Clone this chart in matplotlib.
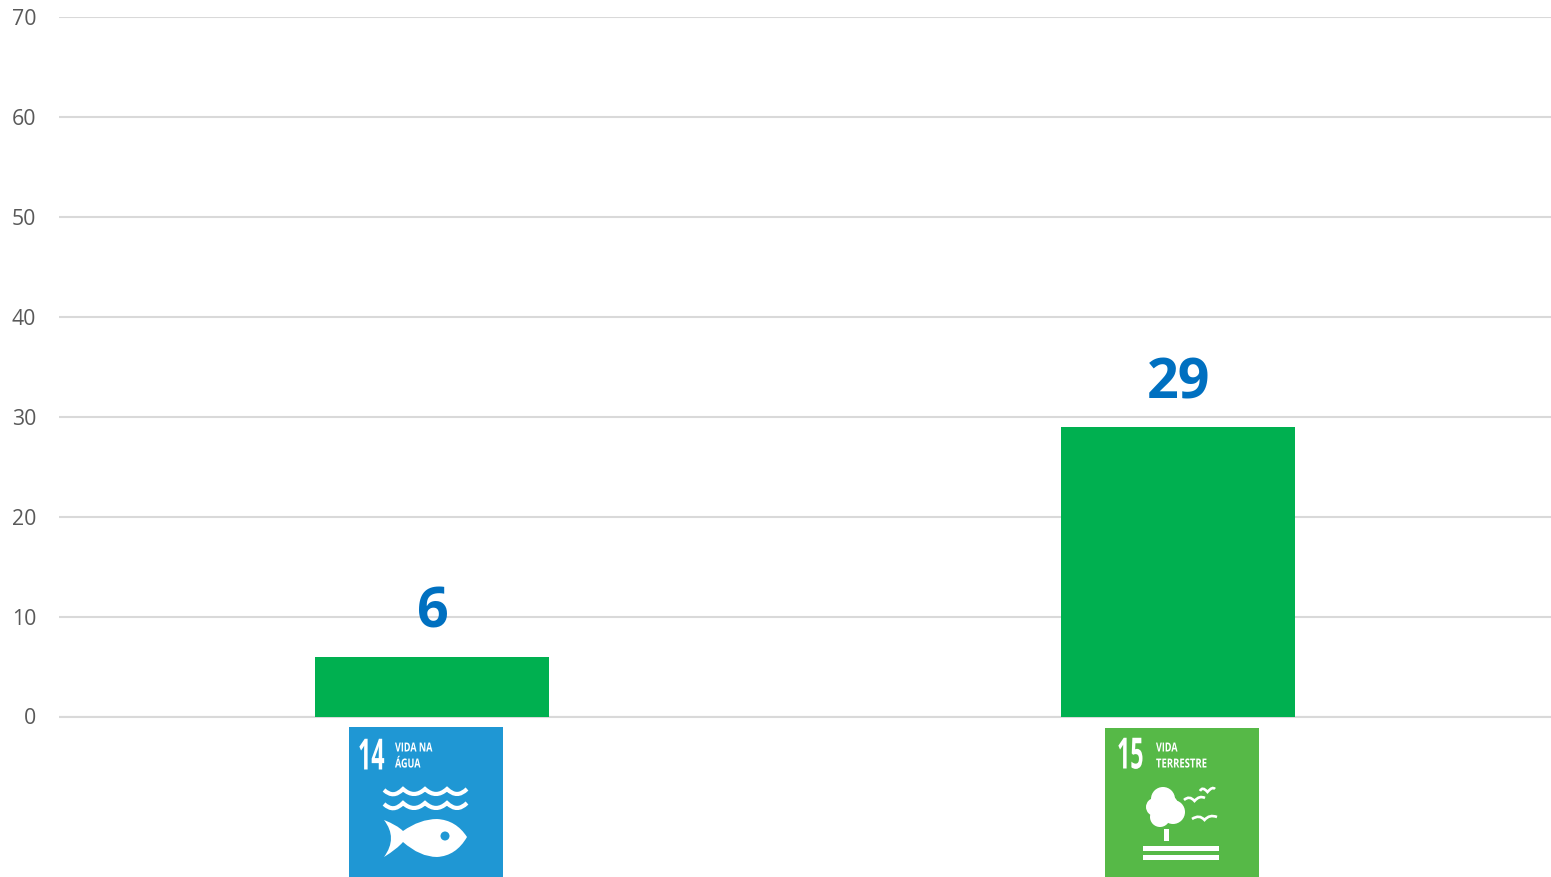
import matplotlib
matplotlib.use('Agg')
import matplotlib.pyplot as plt
from matplotlib.patches import Rectangle, Circle, PathPatch
from matplotlib.path import Path
from matplotlib.patheffects import AbstractPathEffect
from matplotlib.transforms import Affine2D, ScaledTranslation

W, H = 1551, 878
categories = ['ODS 14', 'ODS 15']
values = [6, 29]
yticks = [0, 10, 20, 30, 40, 50, 60, 70]

BAR = '#00B050'
LABEL = '#0070C0'
BLUE_ODS = '#1F97D4'
GREEN_ODS = '#56B947'

plt.rcParams['font.family'] = ['Open Sans', 'DejaVu Sans']
fig = plt.figure(figsize=(W/100, H/100), dpi=100)
ax = fig.add_axes([59/W, 1-717.5/H, (W-59)/W, (717.5-18)/H])

xx = range(len(values))
ax.bar(xx, values, width=0.315, color=BAR, zorder=3)
for x, v in zip(xx, values):
	ax.annotate(str(v), xy=(x, v), xytext=(0.5, 12), textcoords='offset points', ha='center', va='bottom',
		fontsize=40, fontweight='bold', color=LABEL)

ax.set_xlim(-0.5, 1.5)
ax.set_ylim(0, 70)
ax.set_xticks([])
ax.set_yticks(yticks)
ax.tick_params(axis='y', length=0, pad=16.5, labelsize=15.3, labelcolor='#595959')
up = ScaledTranslation(0, 1/100, fig.dpi_scale_trans)
for lbl in ax.get_yticklabels():
	lbl.set_transform(lbl.get_transform() + up)
ax.grid(axis='y', color='#D9D9D9', linewidth=1.5, zorder=0)
ax.set_axisbelow(True)
for s in ['top', 'right', 'left']:
	ax.spines[s].set_visible(False)
ax.spines['bottom'].set_color('#D9D9D9')
ax.spines['bottom'].set_linewidth(1.5)
ax.spines['bottom'].set_capstyle('butt')

# overlay in image pixels for the two goal icons under the bars
ov = fig.add_axes([0, 0, 1, 1])
ov.set_xlim(0, W)
ov.set_ylim(H, 0)
ov.axis('off')
ov.patch.set_alpha(0)

class Squeeze(AbstractPathEffect):
	# no condensed font installed, so narrow the glyphs around the text's left edge
	def __init__(self, x0, sx):
		super().__init__()
		self.x0, self.sx = x0, sx
	def draw_path(self, renderer, gc, tpath, affine, rgbFace=None):
		squeezed = affine + Affine2D().translate(-self.x0, 0).scale(self.sx, 1).translate(self.x0, 0)
		renderer.draw_path(gc, tpath, squeezed, rgbFace)

def icon_text(x, y, s, size, sx):
	ov.text(x, y, s, color='white', fontsize=size, fontweight='bold', ha='left', va='center',
		path_effects=[Squeeze(x, sx)])

def curve(points, **kw):
	# first point is a move, then pairs of control/end points
	codes = [Path.MOVETO] + [Path.CURVE3]*(len(points)-1)
	ov.add_patch(PathPatch(Path(points, codes), **kw))

def wave(y):
	pts = [(384, y-2)]
	prev = 384
	for x in [403, 425, 447, 467]:
		pts += [((prev+x)/2, y+7), (x, y-3)]
		prev = x
	curve(pts, fill=False, edgecolor='white', linewidth=3)

def bird(x0, x1, y):
	xm = (x0+x1)/2
	curve([(x0, y+1), (xm-5, y-4), (xm, y+2), (xm+5, y-4), (x1, y-1)], fill=False, edgecolor='white', linewidth=1.9)

# goal 14
ov.add_patch(Rectangle((349, 727.5), 154, 151, color=BLUE_ODS, lw=0))
icon_text(358, 759, '14', 31, 0.54)
icon_text(395, 749, 'VIDA NA', 9, 0.72)
icon_text(395, 765, 'ÁGUA', 9, 0.72)
wave(793)
wave(807)
fish = [(384, 821), (397, 826), (403, 832), (420, 820), (437, 820), (456, 821), (467, 838),
	(456, 857), (437, 858), (420, 858), (403, 843), (397, 850), (384, 858), (398, 839), (384, 821)]
curve(fish, facecolor='white', edgecolor='none')
ov.add_patch(Circle((445, 837), 4.5, color=BLUE_ODS, lw=0))

# goal 15
ov.add_patch(Rectangle((1105, 728.5), 154, 150, color=GREEN_ODS, lw=0))
icon_text(1117, 758, '15', 31, 0.54)
icon_text(1156, 749, 'VIDA', 9, 0.72)
icon_text(1156, 765, 'TERRESTRE', 9, 0.76)
for c, r in [((1163, 800), 12), ((1155, 808), 9), ((1173, 813), 12), ((1160, 818), 10), ((1168, 806), 10)]:
	ov.add_patch(Circle(c, r, color='white', lw=0))
ov.add_patch(Rectangle((1164, 830), 5, 12, color='white', lw=0))
ov.add_patch(Rectangle((1143, 847), 76, 5, color='white', lw=0))
ov.add_patch(Rectangle((1143, 856), 76, 5, color='white', lw=0))
bird(1184, 1205, 800)
bird(1200, 1215, 791)
bird(1192, 1217, 819)

fig.savefig('out.png', dpi=100, facecolor='white')
